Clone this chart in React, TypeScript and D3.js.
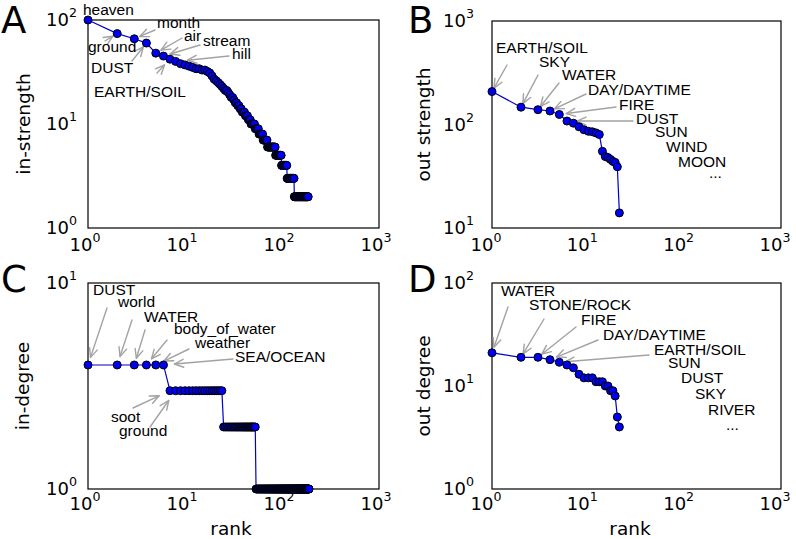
import React from 'react';
import * as d3 from 'd3';

// ---------- data ----------
const inStrength: number[] = [
  100, 74, 66, 60, 48, 45, 42, 40, 38, 37,
  36, 35, 34, 34, 33, 33, 32, 31, 29, 27,
  26, 25, 24, 23, 22, 21, 21, 20, 19, 18,
  18, 17, 16, 16, 15, 15, 14, 14, 13, 13,
  13, 12, 12, 12, 11, 11, 11, 10, 10, 10,
  10, 10, 9, 9, 9, 9, 9, 8, 8, 8,
  8, 8, 8, 7, 7, 7, 7, 7, 7, 7,
  6, 6, 6, 6, 6, 6, 6, 6, 6, 6,
  6, 6, 6, 6, 6, 5, 5, 5, 5, 5,
  5, 5, 5, 5, 5, 5, 5, 5, 4, 4,
  4, 4, 4, 4, 4, 4, 4, 4, 4, 4,
  4, 4, 3, 3, 3, 3, 3, 3, 3, 3,
  3, 3, 3, 3, 3, 3, 3, 3, 3, 3,
  3, 3, 3, 2, 2, 2, 2, 2, 2, 2,
  2, 2, 2, 2, 2, 2, 2, 2, 2, 2,
  2, 2, 2, 2, 2, 2, 2, 2, 2, 2,
  2, 2, 2, 2, 2, 2, 2, 2, 2, 2,
  2, 2, 2, 2, 2, 2, 2, 2, 2, 2,
  2, 2, 2, 2, 2, 2,
];

const outStrength: number[] = [
  208, 147, 139, 135, 125, 108, 103, 95, 89, 86,
  85, 83, 80, 55, 49, 48, 46, 44, 43, 39, 14,
];

const inDegree: number[] = [
  4, 4, 4, 4, 4, 4, 3, 3, 3, 3,
  3, 3, 3, 3, 3, 3, 3, 3, 3, 3,
  3, 3, 3, 3, 2, 2, 2, 2, 2, 2,
  2, 2, 2, 2, 2, 2, 2, 2, 2, 2,
  2, 2, 2, 2, 2, 2, 2, 2, 2, 2,
  2, 2, 2, 1, 1, 1, 1, 1, 1, 1,
  1, 1, 1, 1, 1, 1, 1, 1, 1, 1,
  1, 1, 1, 1, 1, 1, 1, 1, 1, 1,
  1, 1, 1, 1, 1, 1, 1, 1, 1, 1,
  1, 1, 1, 1, 1, 1, 1, 1, 1, 1,
  1, 1, 1, 1, 1, 1, 1, 1, 1, 1,
  1, 1, 1, 1, 1, 1, 1, 1, 1, 1,
  1, 1, 1, 1, 1, 1, 1, 1, 1, 1,
  1, 1, 1, 1, 1, 1, 1, 1, 1, 1,
  1, 1, 1, 1, 1, 1, 1, 1, 1, 1,
  1, 1, 1, 1, 1, 1, 1, 1, 1, 1,
  1, 1, 1, 1, 1, 1, 1, 1, 1, 1,
  1, 1, 1, 1, 1, 1, 1, 1, 1, 1,
  1, 1, 1, 1, 1, 1, 1, 1, 1, 1,
];

const outDegree: number[] = [
  21, 19, 19, 18, 17, 16, 15, 13, 12, 12,
  12, 11, 11, 11, 10, 10, 9, 9, 8, 5, 4,
];

const rankTicks = [1, 10, 100, 1000];
const yTicksA = [1, 10, 100];
const yTicksB = [10, 100, 1000];
const yTicksC = [1, 10];
const yTicksD = [1, 10, 100];

// ---------- annotations (label, target rank, text & arrow-tail offsets in px) ----------
type Ann = { label: string; rank?: number; tx: number; ty: number; ax?: number; ay?: number; shrink?: number };

const annA: Ann[] = [
  { label: 'heaven', tx: -5, ty: -5 },
  { label: 'month', rank: 3, tx: 69, ty: 8, ax: 67, ay: 10, shrink: 6 },
  { label: 'air', rank: 5, tx: 96, ty: 21, ax: 94, ay: 18, shrink: 6 },
  { label: 'stream', rank: 6, tx: 115, ty: 26, ax: 112, ay: 25, shrink: 7 },
  { label: 'hill', rank: 8, tx: 144, ty: 39, ax: 141, ay: 36, shrink: 12 },
  { label: 'ground', rank: 2, tx: 0, ty: 32, ax: 17, ay: 21, shrink: 5 },
  { label: 'DUST', rank: 4, tx: 3, ty: 53, ax: 44, ay: 41, shrink: 5 },
  { label: 'EARTH/SOIL', rank: 7, tx: 6, ty: 77, ax: 69, ay: 53, shrink: 8 },
];

const annB: Ann[] = [
  { label: 'EARTH/SOIL', rank: 1, tx: 4, ty: 32, ax: 15, ay: 44, shrink: 4 },
  { label: 'SKY', rank: 2, tx: 47, ty: 46, ax: 46, ay: 54, shrink: 4 },
  { label: 'WATER', rank: 3, tx: 70, ty: 59, ax: 67, ay: 62, shrink: 4 },
  { label: 'DAY/DAYTIME', rank: 4, tx: 96, ty: 74, ax: 94, ay: 73, shrink: 5 },
  { label: 'FIRE', rank: 5, tx: 127, ty: 89, ax: 124, ay: 86, shrink: 7 },
  { label: 'DUST', rank: 6, tx: 144, ty: 103, ax: 141, ay: 100, shrink: 10 },
  { label: 'SUN', tx: 163, ty: 116 },
  { label: 'WIND', tx: 174, ty: 131 },
  { label: 'MOON', tx: 186, ty: 146 },
  { label: '...', tx: 217, ty: 157 },
];

const annC: Ann[] = [
  { label: 'DUST', rank: 1, tx: 5, ty: 12, ax: 19, ay: 25, shrink: 8 },
  { label: 'world', rank: 2, tx: 30, ty: 24, ax: 44, ay: 37, shrink: 9 },
  { label: 'WATER', rank: 3, tx: 56, ty: 39, ax: 57, ay: 47, shrink: 7 },
  { label: 'body_of_water', rank: 4, tx: 86, ty: 51, ax: 79, ay: 57, shrink: 8 },
  { label: 'weather', rank: 5, tx: 107, ty: 65, ax: 101, ay: 66, shrink: 9 },
  { label: 'SEA/OCEAN', rank: 6, tx: 147, ty: 79, ax: 145, ay: 76, shrink: 11 },
  { label: 'soot', rank: 7, tx: 23, ty: 139, ax: 45, ay: 125, shrink: 12 },
  { label: 'ground', rank: 8, tx: 31, ty: 153, ax: 62, ay: 144, shrink: 12 },
];

const annD: Ann[] = [
  { label: 'WATER', rank: 1, tx: 9, ty: 13, ax: 16, ay: 24, shrink: 6 },
  { label: 'STONE/ROCK', rank: 2, tx: 37, ty: 27, ax: 52, ay: 36, shrink: 4 },
  { label: 'FIRE', rank: 3, tx: 89, ty: 42, ax: 84, ay: 44, shrink: 5 },
  { label: 'DAY/DAYTIME', rank: 4, tx: 111, ty: 57, ax: 106, ay: 57, shrink: 7 },
  { label: 'EARTH/SOIL', rank: 5, tx: 162, ty: 72, ax: 157, ay: 72, shrink: 6 },
  { label: 'SUN', tx: 176, ty: 85 },
  { label: 'DUST', tx: 189, ty: 100 },
  { label: 'SKY', tx: 203, ty: 116 },
  { label: 'RIVER', tx: 216, ty: 132 },
  { label: '...', tx: 234, ty: 147 },
];

// ---------- layout ----------
type PanelCfg = {
  letter: string; lx: number; ly: number;
  values: number[]; yDomain: [number, number]; yTicks: number[];
  ylabel: string; ylabelX: number;
  xlabel?: string; xlabelX?: number;
  x0: number; y0: number; w: number; h: number;
  yGap: number; xLabOff: number; xLabShift: number;
  anns: Ann[];
};

const panels: PanelCfg[] = [
  { letter: 'A', lx: 1, ly: 33, values: inStrength, yDomain: [1, 100], yTicks: yTicksA,
    ylabel: 'in-strength', ylabelX: 30, x0: 88, y0: 20, w: 291, h: 208,
    yGap: 11, xLabOff: 23, xLabShift: -3, anns: annA },
  { letter: 'B', lx: 408, ly: 33, values: outStrength, yDomain: [10, 1000], yTicks: yTicksB,
    ylabel: 'out strength', ylabelX: 430, x0: 492, y0: 21, w: 289, h: 207,
    yGap: 18, xLabOff: 23, xLabShift: -6, anns: annB },
  { letter: 'C', lx: 1, ly: 292, values: inDegree, yDomain: [1, 10], yTicks: yTicksC,
    ylabel: 'in-degree', ylabelX: 29, xlabel: 'rank', xlabelX: 231, x0: 88, y0: 283, w: 291, h: 206,
    yGap: 11, xLabOff: 21, xLabShift: -3, anns: annC },
  { letter: 'D', lx: 408, ly: 292, values: outDegree, yDomain: [1, 100], yTicks: yTicksD,
    ylabel: 'out degree', ylabelX: 430, xlabel: 'rank', xlabelX: 630, x0: 492, y0: 283, w: 289, h: 206,
    yGap: 18, xLabOff: 21, xLabShift: -6, anns: annD },
];

const DV = 'DejaVu Sans, sans-serif';
const LS = 'Liberation Sans, Arial, Helvetica, sans-serif';
const ARROW = '#a3a3a3';

function Pow10({ x, y, t, anchor }: { x: number; y: number; t: number; anchor: 'middle' | 'end' }) {
  const e = Math.round(Math.log10(t));
  return (
    <text x={x} y={y} textAnchor={anchor} fontFamily={DV} fontSize={18} fill="#000">
      10<tspan dy={-9} fontSize={12.6}>{e}</tspan>
    </text>
  );
}

function Panel({ p }: { p: PanelCfg }) {
  const x = d3.scaleLog().domain([1, 1000]).range([p.x0, p.x0 + p.w]);
  const y = d3.scaleLog().domain(p.yDomain).range([p.y0 + p.h, p.y0]);
  const line = d3.line<number>().x((_, i) => x(i + 1)).y((d) => y(d));

  const arrows = p.anns.filter((a) => a.rank !== undefined).map((a, k) => {
    const px = x(a.rank!);
    const py = y(p.values[a.rank! - 1]);
    const tx = p.x0 + a.ax!;
    const ty = p.y0 + a.ay!;
    const dx = px - tx, dy = py - ty;
    const len = Math.hypot(dx, dy);
    const ux = dx / len, uy = dy / len;
    const hx = px - ux * a.shrink!, hy = py - uy * a.shrink!;
    const hl = 9, hw = 4;
    const bx = hx - ux * hl, by = hy - uy * hl;
    const nx = -uy, ny = ux;
    return (
      <g key={k} stroke={ARROW} strokeWidth={1.4} fill="none" strokeLinecap="round" strokeLinejoin="round">
        <line x1={tx} y1={ty} x2={hx} y2={hy} />
        <polyline points={`${bx + nx * hw},${by + ny * hw} ${hx},${hy} ${bx - nx * hw},${by - ny * hw}`} />
      </g>
    );
  });

  return (
    <g>
      <text x={p.lx} y={p.ly} fontFamily={DV} fontSize={37} fill="#000">{p.letter}</text>
      <rect x={p.x0} y={p.y0} width={p.w} height={p.h} fill="none" stroke="#000" strokeWidth={1.2} />
      {rankTicks.map((t) => (
        <Pow10 key={'x' + t} x={x(t) + p.xLabShift} y={p.y0 + p.h + p.xLabOff} t={t} anchor="middle" />
      ))}
      {p.yTicks.map((t) => (
        <Pow10 key={'y' + t} x={p.x0 - p.yGap} y={y(t) + 6} t={t} anchor="end" />
      ))}
      <text transform={`translate(${p.ylabelX},${p.y0 + p.h / 2}) rotate(-90)`} textAnchor="middle"
        fontFamily={DV} fontSize={18.5} fill="#000">{p.ylabel}</text>
      {p.xlabel && (
        <text x={p.xlabelX} y={535} textAnchor="middle" fontFamily={DV} fontSize={18.5} fill="#000">{p.xlabel}</text>
      )}
      {arrows}
      {p.anns.map((a, k) => (
        <text key={'t' + k} x={p.x0 + a.tx} y={p.y0 + a.ty} fontFamily={LS} fontSize={15.5} fill="#000">{a.label}</text>
      ))}
      <path d={line(p.values) ?? ''} fill="none" stroke="#0000c8" strokeWidth={1.2} />
      {p.values.map((v, i) => (
        <circle key={i} cx={x(i + 1)} cy={y(v)} r={4} fill="#0000f0" stroke="#000" strokeWidth={1} />
      ))}
    </g>
  );
}

export default function App() {
  return (
    <svg width={796} height={539} style={{ position: 'absolute', left: 0, top: 0, background: '#fff' }}>
      <rect x={0} y={0} width={796} height={539} fill="#fff" />
      {panels.map((p) => <Panel key={p.letter} p={p} />)}
    </svg>
  );
}
